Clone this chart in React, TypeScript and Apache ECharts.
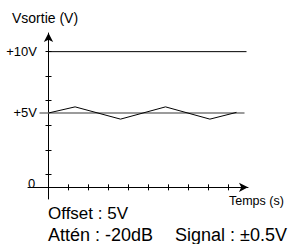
import React, { useEffect, useRef } from "react";
import * as echarts from "echarts";

const yTickValues = [0, 2, 4, 6, 8, 10];
const yLabelValues = [5, 10];
const xTickValues = [1, 2, 3, 4, 5, 6, 7, 8, 9];
const level10 = [[0, 10], [9.9, 10]];
const level5 = [[-0.45, 5], [9.8, 5]];
const signal = [[0, 5], [1.33, 5.5], [3.6, 4.5], [5.85, 5.5], [8.07, 4.5], [9.4, 5.05]];
const texts = {
  yName: "Vsortie (V)",
  xName: "Temps (s)",
  origin: "0",
  line1: "Offset : 5V",
  line2a: "Attén : -20dB",
  line2b: "Signal : ±0.5V",
};

const FONT = "'Liberation Sans', Arial, sans-serif";

export default function App() {
  const ref = useRef<HTMLDivElement>(null);
  useEffect(() => {
    const chart = echarts.init(ref.current!, null, { renderer: "svg" });
    const yMin = -2.01;
    const yMax = 11.52;
    const shift = 1.06;
    const xMin = -1.025;
    const xMax = 9.975;
    const lineStyle = { color: "#000", width: 1 };
    chart.setOption({
      animation: false,
      grid: { left: 28, right: 43, top: 33, bottom: 45, containLabel: false, outerBoundsMode: "none" },
      xAxis: [
        {
          type: "value",
          min: xMin,
          max: xMax,
          axisLine: { onZero: true, onZeroAxisIndex: 1, lineStyle, symbol: ["none", "arrow"], symbolSize: [7, 9] },
          axisTick: { show: true, length: 3, lineStyle, customValues: xTickValues },
          axisLabel: { show: false },
          splitLine: { show: false },
        },
        {
          type: "value",
          min: xMin,
          max: xMax,
          position: "bottom",
          axisLine: { show: false, onZero: true, onZeroAxisIndex: 1 },
          axisTick: { show: true, inside: true, length: 3, lineStyle, customValues: xTickValues },
          axisLabel: { show: false },
          splitLine: { show: false },
        },
      ],
      yAxis: [
        {
          type: "value",
          min: yMin,
          max: yMax,
          axisLine: { onZero: true, onZeroAxisIndex: 0, lineStyle, symbol: ["none", "arrow"], symbolSize: [7, 9] },
          axisTick: { show: true, length: 3, lineStyle, customValues: yTickValues },
          axisLabel: {
            show: true,
            customValues: yLabelValues,
            formatter: (v: number) => "+" + v + "V",
            color: "#000",
            fontSize: 13,
            fontFamily: FONT,
            margin: -9,
          },
          splitLine: { show: false },
        },
        {
          type: "value",
          min: yMin + shift,
          max: yMax + shift,
          show: false,
        },
        {
          type: "value",
          min: yMin,
          max: yMax,
          position: "left",
          axisLine: { show: false, onZero: true, onZeroAxisIndex: 0 },
          axisTick: { show: true, inside: true, length: 3, lineStyle, customValues: yTickValues },
          axisLabel: { show: false },
          splitLine: { show: false },
        },
      ],
      series: [
        {
          type: "line",
          data: level5,
          symbol: "none",
          lineStyle: { color: "#7a7a7a", width: 1.6 },
        },
        {
          type: "line",
          data: level10,
          symbol: "none",
          lineStyle: { color: "#000", width: 1 },
        },
        {
          type: "line",
          data: signal,
          symbol: "none",
          lineStyle: { color: "#000", width: 1 },
        },
      ],
      graphic: [
        { type: "text", left: 12, top: 11, style: { text: texts.yName, font: `14px ${FONT}`, fill: "#000" } },
        { type: "text", left: 229, top: 194, style: { text: texts.xName, font: `12.5px ${FONT}`, fill: "#000" } },
        { type: "text", left: 28, top: 177, style: { text: texts.origin, font: `13px ${FONT}`, fill: "#000" } },
        { type: "text", left: 48, top: 204, style: { text: texts.line1, font: `17px ${FONT}`, lineHeight: 18, fill: "#000" } },
        { type: "text", left: 48, top: 226, style: { text: texts.line2a, font: `18px ${FONT}`, lineHeight: 17, fill: "#000" } },
        { type: "text", right: 4, top: 226, style: { text: texts.line2b, font: `18px ${FONT}`, lineHeight: 17, fill: "#000" } },
      ],
    });
    return () => chart.dispose();
  }, []);
  return <div ref={ref} style={{ width: 291, height: 244, position: "absolute", left: 0, top: 0 }} />;
}
